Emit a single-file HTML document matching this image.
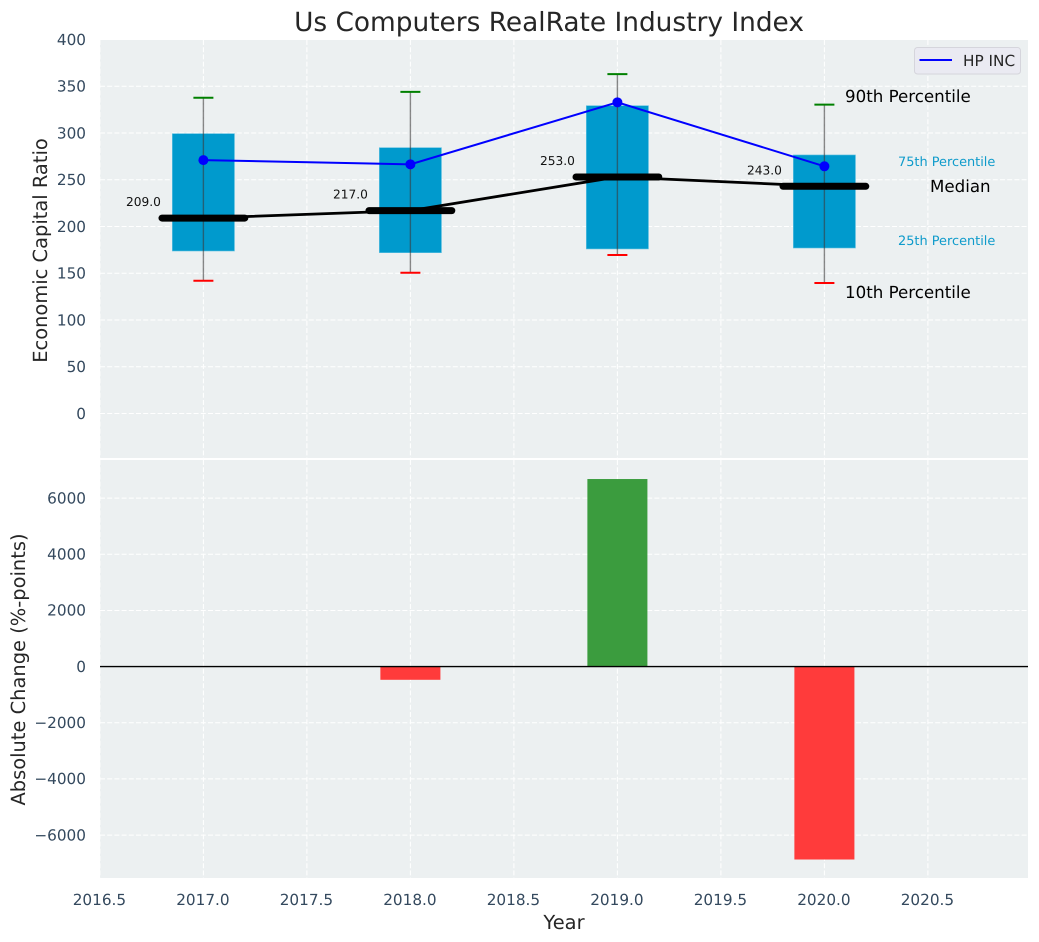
<!DOCTYPE html>
<html>
<head>
<meta charset="utf-8">
<title>Us Computers RealRate Industry Index</title>
<style>
html,body{margin:0;padding:0;background:#fff;}
svg{display:block;font-family:"DejaVu Sans","Liberation Sans",sans-serif;text-rendering:geometricPrecision;}
.tick{font-size:15.28px;fill:#34495e;}
.axis-title{font-size:19.44px;fill:#262626;}
.big-note{font-size:16.67px;fill:#000;}
.small-note{font-size:12.9px;fill:#0f9bcb;}
.median-label{font-size:12.2px;fill:#111;}
</style>
</head>
<body>
<svg id="chart" width="1039" height="942" viewBox="0 0 1039 942" xmlns="http://www.w3.org/2000/svg">
  <rect x="0" y="0" width="1039" height="942" fill="#ffffff"/>
  <rect x="100" y="40" width="928" height="418" fill="#ecf0f1"/>
  <rect x="100" y="460" width="928" height="418" fill="#ecf0f1"/>
  <g id="grid"></g>
  <g id="ticks"></g>
  <g id="bars"></g>
  <g id="boxes"></g>
  <text x="549" y="31" text-anchor="middle" font-size="26.39" fill="#262626">Us Computers RealRate Industry Index</text>
  <text class="axis-title" transform="translate(47,250.5) rotate(-90)" text-anchor="middle">Economic Capital Ratio</text>
  <text class="axis-title" transform="translate(25,669.5) rotate(-90)" text-anchor="middle">Absolute Change (%-points)</text>
  <text class="axis-title" x="564" y="929" text-anchor="middle">Year</text>
  <text class="big-note" x="845" y="102">90th Percentile</text>
  <text class="small-note" x="898" y="166">75th Percentile</text>
  <text class="big-note" x="930" y="192">Median</text>
  <text class="small-note" x="898" y="245">25th Percentile</text>
  <text class="big-note" x="845" y="298">10th Percentile</text>
  <g>
    <rect x="914.5" y="47.5" width="106" height="26.5" rx="3" fill="#eaeaf2" stroke="#d5d5dc" stroke-width="1"/>
    <line x1="919.5" y1="60" x2="952" y2="60" stroke="#0000ff" stroke-width="2"/>
    <text x="963" y="66" font-size="15.28" fill="#262626">HP INC</text>
  </g>
</svg>
<script>
var years = [2017, 2018, 2019, 2020];
var p10 = [142, 150.6, 169.5, 139.6];
var p25 = [173.8, 172, 176, 177];
var medians = [209, 217, 253, 243];
var p75 = [299.3, 284.3, 329.2, 276.5];
var p90 = [337.7, 344, 363, 330.3];
var hpInc = [271, 266.5, 332.8, 264.4];
var changeYears = [2018, 2019, 2020];
var changes = [-470, 6680, -6870];
var xTicks = [2016.5, 2017, 2017.5, 2018, 2018.5, 2019, 2019.5, 2020, 2020.5];
var yTicksTop = [0, 50, 100, 150, 200, 250, 300, 350, 400];
var yTicksBottom = [-6000, -4000, -2000, 0, 2000, 4000, 6000];

var NS = 'http://www.w3.org/2000/svg';
function xScale(v) { return 99.9 + (v - 2016.5) * 207; }
function xLen(v) { return v * 207; }
function yTop(v) { return 413.5 - v * 0.935; }
function yBottom(v) { return 666.6 - v * 0.02808; }
function mk(parent, tag, attrs, text) {
  var el = document.createElementNS(NS, tag);
  for (var k in attrs) el.setAttribute(k, attrs[k]);
  if (text !== undefined) el.textContent = text;
  parent.appendChild(el);
  return el;
}
function fmt(v) { return v < 0 ? '\u2212' + Math.abs(v) : String(v); }
var gGrid = document.getElementById('grid');
var gTicks = document.getElementById('ticks');
var gBars = document.getElementById('bars');
var gBoxes = document.getElementById('boxes');
var dash = {stroke: '#ffffff', 'stroke-width': 1, 'stroke-dasharray': '5 2.2', fill: 'none'};
function gridLine(x1, y1, x2, y2) {
  var a = {x1: x1, y1: y1, x2: x2, y2: y2};
  for (var k in dash) a[k] = dash[k];
  var el = mk(gGrid, 'line', a);
  
  
}
xTicks.forEach(function (t) {
  var x = xScale(t);
  gridLine(x, 40, x, 458);
  gridLine(x, 460, x, 878);
  var lab = mk(gTicks, 'text', {x: x - 0.5, y: 905, 'text-anchor': 'middle', 'class': 'tick'}, t.toFixed(1));
  
  
});
yTicksTop.forEach(function (t) {
  var y = yTop(t);
  if (t < 400) gridLine(100, y, 1028, y);
  var lab = mk(gTicks, 'text', {x: 86, y: y + 5.3, 'text-anchor': 'end', 'class': 'tick'}, fmt(t));
  
  
});
yTicksBottom.forEach(function (t) {
  var y = yBottom(t);
  gridLine(100, y, 1028, y);
  var lab = mk(gTicks, 'text', {x: 86, y: y + 5.3, 'text-anchor': 'end', 'class': 'tick'}, fmt(t));
  
  
});

changeYears.forEach(function (yr, i) {
  var v = changes[i];
  var y0 = yBottom(0), y1 = yBottom(v);
  var bar = mk(gBars, 'rect', {
    x: xScale(yr) - xLen(0.145), y: Math.min(y0, y1), width: xLen(0.29), height: Math.abs(y1 - y0),
    fill: v >= 0 ? '#3b9c3e' : '#ff3b3b'
  });
  
  
});
var zero = mk(gBars, 'line', {x1: 100, y1: yBottom(0), x2: 1028, y2: yBottom(0), stroke: '#000', 'stroke-width': 1.4});



years.forEach(function (yr, i) {
  var x = xScale(yr);
  var box = mk(gBoxes, 'rect', {
    x: x - xLen(0.15), y: yTop(p75[i]), width: xLen(0.3), height: yTop(p25[i]) - yTop(p75[i]),
    fill: '#009acd', stroke: '#5cbfe0', 'stroke-width': 0.6
  });
  
  
  var wh = mk(gBoxes, 'line', {x1: x, y1: yTop(p90[i]), x2: x, y2: yTop(p10[i]), stroke: '#3a3a3a', 'stroke-opacity': 0.6, 'stroke-width': 1.4});
  
  
  var capHi = mk(gBoxes, 'line', {x1: x - 10, y1: yTop(p90[i]), x2: x + 10, y2: yTop(p90[i]), stroke: '#008000', 'stroke-width': 2});
  
  
  var capLo = mk(gBoxes, 'line', {x1: x - 10, y1: yTop(p10[i]), x2: x + 10, y2: yTop(p10[i]), stroke: '#ff0000', 'stroke-width': 2});
  
  
});

var medPts = years.map(function (yr, i) { return xScale(yr) + ',' + yTop(medians[i]); }).join(' ');
var medLine = mk(gBoxes, 'polyline', {points: medPts, fill: 'none', stroke: '#000', 'stroke-width': 2.8});


years.forEach(function (yr, i) {
  var x = xScale(yr), y = yTop(medians[i]);
  var seg = mk(gBoxes, 'line', {x1: x - xLen(0.2), y1: y, x2: x + xLen(0.2), y2: y, stroke: '#000', 'stroke-width': 7, 'stroke-linecap': 'round'});
  
  
  var lab = mk(gBoxes, 'text', {x: x - xLen(0.2) - 18.5, y: y - 12, 'class': 'median-label', 'text-anchor': 'middle'}, medians[i].toFixed(1));
  
  
});

var hpPts = years.map(function (yr, i) { return xScale(yr) + ',' + yTop(hpInc[i]); }).join(' ');
var hpLine = mk(gBoxes, 'polyline', {points: hpPts, fill: 'none', stroke: '#0000ff', 'stroke-width': 2});


years.forEach(function (yr, i) {
  var dot = mk(gBoxes, 'circle', {cx: xScale(yr), cy: yTop(hpInc[i]), r: 5, fill: '#0000ff'});
  
  
});
</script>
</body>
</html>
